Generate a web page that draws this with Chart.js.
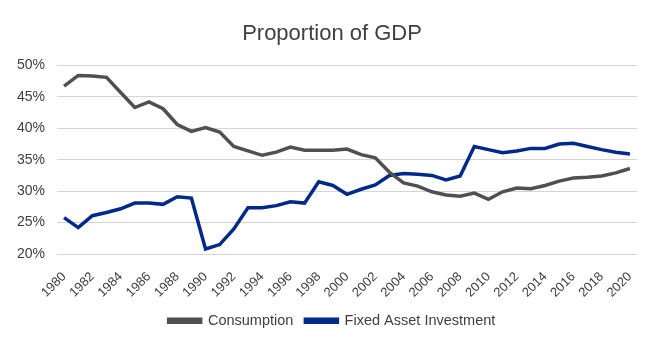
<!DOCTYPE html>
<html>
<head>
<meta charset="utf-8">
<script src="https://cdn.jsdelivr.net/npm/chart.js@4/dist/chart.umd.min.js"></script>
<style>
  html, body { margin: 0; padding: 0; background: #ffffff; }
  #wrap { width: 657px; height: 347px; }
</style>
</head>
<body>
<div id="wrap"><canvas id="c" width="657" height="347"></canvas></div>
<script>
const years = ["1980","1981","1982","1983","1984","1985","1986","1987","1988","1989",
  "1990","1991","1992","1993","1994","1995","1996","1997","1998","1999",
  "2000","2001","2002","2003","2004","2005","2006","2007","2008","2009",
  "2010","2011","2012","2013","2014","2015","2016","2017","2018","2019","2020"];

const consumption = [46.7, 48.4, 48.3, 48.1, 45.7, 43.3, 44.2, 43.1, 40.6, 39.5,
  40.1, 39.4, 37.1, 36.4, 35.7, 36.2, 37.0, 36.5, 36.5, 36.5,
  36.7, 35.8, 35.3, 33.0, 31.3, 30.8, 29.9, 29.4, 29.2, 29.7,
  28.7, 29.9, 30.5, 30.4, 30.9, 31.6, 32.1, 32.2, 32.4, 32.9, 33.6];

const fixedAssetInvestment = [25.8, 24.2, 26.1, 26.6, 27.2, 28.1, 28.1, 27.9, 29.1, 28.9,
  20.8, 21.5, 24.0, 27.35, 27.35, 27.7, 28.3, 28.1, 31.5, 30.9,
  29.5, 30.3, 31.0, 32.5, 32.8, 32.7, 32.5, 31.8, 32.4, 37.1,
  36.6, 36.1, 36.4, 36.8, 36.8, 37.5, 37.6, 37.1, 36.6, 36.2, 35.9];

const yTicks = [20, 25, 30, 35, 40, 45, 50];

const FONT = "'Liberation Sans', Arial, sans-serif";

new Chart(document.getElementById('c'), {
  type: 'line',
  data: {
    labels: years,
    datasets: [
      {
        label: 'Consumption',
        data: consumption,
        borderColor: '#505050',
        backgroundColor: '#505050',
        borderWidth: 3.5,
        pointRadius: 0,
        tension: 0,
        fill: false
      },
      {
        label: 'Fixed Asset Investment',
        data: fixedAssetInvestment,
        borderColor: '#002a8a',
        backgroundColor: '#002a8a',
        borderWidth: 3.5,
        pointRadius: 0,
        tension: 0,
        fill: false
      }
    ]
  },
  options: {
    responsive: false,
    animation: false,
    layout: { padding: { left: 17, right: 10, top: 0, bottom: 9 } },
    plugins: {
      title: {
        display: true,
        text: 'Proportion of GDP',
        color: '#404040',
        font: { family: FONT, size: 22, weight: 'normal' },
        padding: { top: 21, bottom: 18 }
      },
      legend: {
        position: 'bottom',
        labels: {
          color: '#404040',
          font: { family: FONT, size: 14.5 },
          boxWidth: 32,
          boxHeight: 3,
          padding: 12
        }
      },
      tooltip: { enabled: false }
    },
    scales: {
      x: {
        type: 'category',
        offset: true,
        grid: { display: false },
        border: { display: false },
        afterFit: function(axis) { axis.height -= 6; },
        ticks: {
          autoSkip: false,
          maxRotation: 45,
          minRotation: 45,
          color: '#404040',
          font: { family: FONT, size: 13 },
          padding: 7,
          callback: function(v, i) { return i % 2 === 0 ? years[i] : ''; }
        }
      },
      y: {
        min: yTicks[0],
        max: yTicks[yTicks.length - 1],
        afterBuildTicks: function(axis) { axis.ticks = yTicks.map(v => ({ value: v })); },
        afterFit: function(axis) { axis.width = 40; },
        grid: { color: '#d4d4d4', lineWidth: 1, drawTicks: false },
        border: { display: false },
        ticks: {
          color: '#404040',
          font: { family: FONT, size: 14 },
          padding: 12,
          callback: function(v) { return v + '%'; }
        }
      },
      yRight: {
        type: 'linear',
        position: 'right',
        display: true,
        grid: { display: false },
        border: { display: false },
        ticks: { display: false },
        afterFit: function(axis) { axis.width = 10; }
      }
    }
  }
});
</script>
</body>
</html>
